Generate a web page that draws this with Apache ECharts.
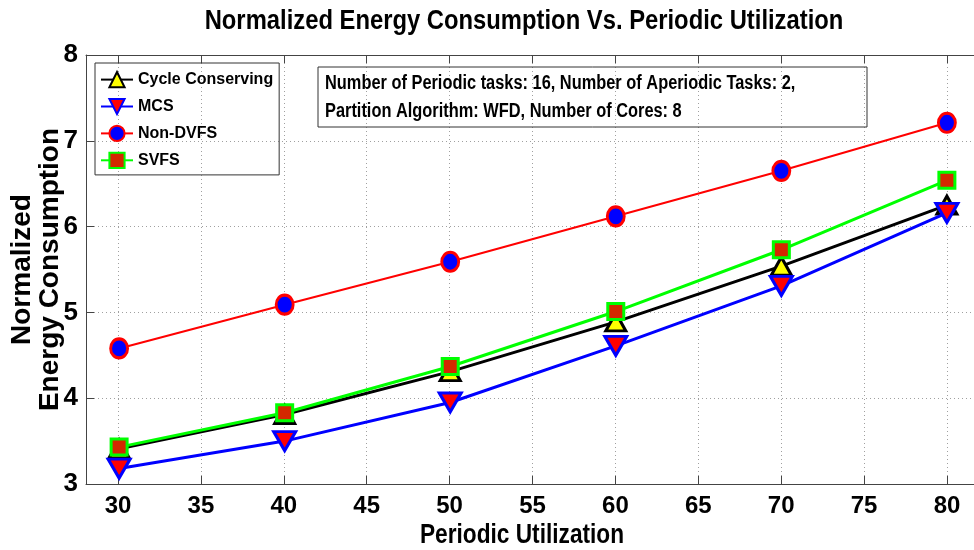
<!DOCTYPE html>
<html>
<head>
<meta charset="utf-8">
<script src="https://cdn.jsdelivr.net/npm/echarts@6/dist/echarts.min.js"></script>
<style>
  html, body { margin: 0; padding: 0; background: #fff; }
  #chart { width: 974px; height: 550px; }
</style>
</head>
<body>
<div id="chart"></div>
<script>
// data
const utilization = [30, 40, 50, 60, 70, 80];
const cycleConserving = [3.41, 3.81, 4.31, 4.89, 5.54, 6.25];
const mcs = [3.18, 3.50, 3.95, 4.61, 5.31, 6.16];
const nonDvfs = [4.58, 5.09, 5.59, 6.12, 6.65, 7.21];
const svfs = [3.43, 3.83, 4.37, 5.01, 5.73, 6.54];
const titleText = "Normalized Energy Consumption Vs. Periodic Utilization";
const xName = "Periodic Utilization";
const yName = "Normalized\nEnergy Consumption";
const noteLines = [
  "Number of Periodic tasks: 16, Number of Aperiodic Tasks: 2,",
  "Partition Algorithm: WFD, Number of Cores: 8",
];

const FONT = "'Liberation Sans', Arial, sans-serif";

const pairs = (ys) => utilization.map((x, i) => [x, ys[i]]);

const chart = echarts.init(document.getElementById("chart"));

const gridLine = {
  show: true,
  lineStyle: { color: "#a0a0a0", type: [1, 3], width: 1 },
};
const tickIn = { show: true, inside: true, length: 8, lineStyle: { color: "#444" } };

// horizontal texts in the original are narrower than the font, so squeeze them a bit
const squeezedText = (text, x, y, size, scaleX, align, extra = {}) => ({
  type: "text",
  x,
  y,
  scaleX,
  z: 10,
  style: {
    text,
    fontFamily: FONT,
    fontWeight: "bold",
    fontSize: size,
    fill: "#000",
    align,
    textAlign: align,
    verticalAlign: "middle",
    textVerticalAlign: "middle",
    ...extra,
  },
});

chart.setOption({
  animation: false,
  backgroundColor: "#fff",
  grid: [
    { left: 86, right: -6, top: 55, bottom: 66, outerBoundsMode: "none", containLabel: false },
    { left: 118, right: 27, top: 55, bottom: 66, outerBoundsMode: "none", containLabel: false },
  ],
  xAxis: [
    {
      type: "value",
      gridIndex: 0,
      min: 28,
      max: 82,
      axisLine: { show: true, lineStyle: { color: "#444", width: 1 } },
      axisTick: { show: false },
      axisLabel: { show: false },
      splitLine: { show: false },
    },
    {
      type: "value",
      gridIndex: 0,
      position: "top",
      min: 28,
      max: 82,
      axisLine: { show: true, lineStyle: { color: "#444", width: 1 } },
      axisTick: { show: false },
      axisLabel: { show: false },
      splitLine: { show: false },
    },
    {
      type: "value",
      gridIndex: 1,
      min: 30,
      max: 80,
      interval: 5,
      axisLine: { show: false },
      axisTick: tickIn,
      axisLabel: {
        margin: 10,
        fontFamily: FONT,
        fontWeight: "bold",
        fontSize: 24,
        color: "#000",
      },
      splitLine: gridLine,
    },
    {
      type: "value",
      gridIndex: 1,
      position: "top",
      min: 30,
      max: 80,
      interval: 5,
      axisLine: { show: false },
      axisTick: tickIn,
      axisLabel: { show: false },
      splitLine: { show: false },
    },
  ],
  yAxis: [
    {
      type: "value",
      gridIndex: 0,
      min: 3,
      max: 8,
      interval: 1,
      axisLine: { show: true, lineStyle: { color: "#444", width: 1 } },
      axisTick: tickIn,
      axisLabel: {
        margin: 8,
        fontFamily: FONT,
        fontWeight: "bold",
        fontSize: 26,
        color: "#000",
      },
      splitLine: gridLine,
      name: yName,
      nameLocation: "middle",
      nameGap: 22,
      nameMoveOverlap: false,
      nameTextStyle: {
        fontFamily: FONT,
        fontWeight: "bold",
        fontSize: 28,
        lineHeight: 28,
        color: "#000",
      },
    },
    { type: "value", gridIndex: 1, min: 3, max: 8, show: false },
  ],
  legend: {
    orient: "vertical",
    left: 95,
    top: 63,
    padding: [8, 6, 6, 5],
    itemGap: 9.7,
    itemWidth: 32,
    itemHeight: 19,
    borderColor: "#333",
    borderWidth: 1,
    textStyle: { fontFamily: FONT, fontWeight: "bold", fontSize: 16, color: "#000" },
    data: ["Cycle Conserving", "MCS", "Non-DVFS", "SVFS"],
  },
  graphic: [
    squeezedText(titleText, 524, 21, 28, 0.85, "center"),
    squeezedText(xName, 522, 535, 28, 0.81, "center"),
    {
      type: "rect",
      shape: { x: 318, y: 67, width: 549, height: 60 },
      style: { fill: "none", stroke: "#333", lineWidth: 1 },
      z: 10,
    },
    squeezedText(noteLines.join("\n"), 325, 98, 19.5, 0.84, "left", { lineHeight: 28 }),
  ],
  series: [
    {
      name: "Cycle Conserving",
      type: "line",
      xAxisIndex: 0,
      yAxisIndex: 0,
      data: pairs(cycleConserving),
      symbol: "triangle",
      symbolSize: [20, 18],
      lineStyle: { color: "#000", width: 3 },
      itemStyle: { color: "#ffff00", borderColor: "#000", borderWidth: 3 },
      z: 3,
    },
    {
      name: "MCS",
      type: "line",
      xAxisIndex: 0,
      yAxisIndex: 0,
      data: pairs(mcs),
      symbol: "triangle",
      symbolRotate: 180,
      symbolSize: [22, 19],
      lineStyle: { color: "#0000ff", width: 3 },
      itemStyle: { color: "#ff0000", borderColor: "#0000ff", borderWidth: 3 },
      z: 4,
    },
    {
      name: "Non-DVFS",
      type: "line",
      xAxisIndex: 0,
      yAxisIndex: 0,
      data: pairs(nonDvfs),
      symbol: "circle",
      symbolSize: [17, 19],
      lineStyle: { color: "#ff0000", width: 2 },
      itemStyle: { color: "#0000ff", borderColor: "#ff0000", borderWidth: 3 },
      z: 5,
    },
    {
      name: "SVFS",
      type: "line",
      xAxisIndex: 0,
      yAxisIndex: 0,
      data: pairs(svfs),
      symbol: "rect",
      symbolSize: 16,
      lineStyle: { color: "#00ff00", width: 3 },
      itemStyle: { color: "#d42800", borderColor: "#00ff00", borderWidth: 3 },
      z: 6,
    },
  ],
});
</script>
</body>
</html>
